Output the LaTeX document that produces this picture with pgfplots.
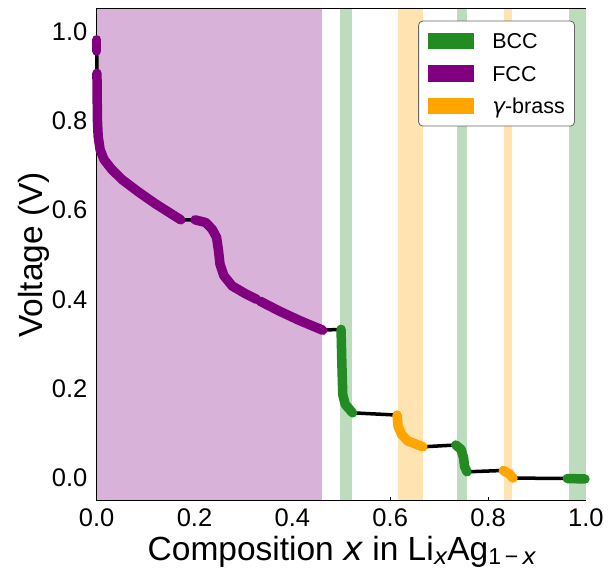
\documentclass[border=0pt]{standalone}
\usepackage{fontspec}
\setmainfont{Liberation Sans}
\newfontfamily\dv{DejaVu Sans}
\usepackage{pgfplots}
\pgfplotsset{compat=1.18}
\definecolor{bcc}{HTML}{228B22}
\definecolor{fcc}{HTML}{800080}
\definecolor{gam}{HTML}{FFA500}
\definecolor{bccs}{HTML}{BDDCBD}
\definecolor{fccs}{HTML}{D9B2D9}
\definecolor{gams}{HTML}{FFE4B2}
\newcommand{\sub}[1]{\raisebox{-4pt}{\fontsize{23}{23}\selectfont #1}}
\begin{document}
\begin{tikzpicture}
\useasboundingbox (-96.7pt,-70.6pt) rectangle (516.3pt,500.4pt);
\begin{axis}[
  scale only axis, width=489.2pt, height=491.4pt,
  xmin=0, xmax=1, ymin=-0.05, ymax=1.05,
  clip=false,
  axis line style={line width=1pt},
  tick align=inside, tick pos=left, major tick length=3.5pt,
  tick style={line width=1pt, black},
  xtick={0,0.2,0.4,0.6,0.8,1.0}, ytick={0,0.2,0.4,0.6,0.8,1.0},
  xticklabel style={font=\fontsize{25.5}{25.5}\selectfont, inner sep=0pt, yshift=-7.6pt,
    /pgf/number format/.cd, fixed, fixed zerofill, precision=1, assume math mode=true},
  yticklabel style={font=\fontsize{25.5}{25.5}\selectfont, inner sep=0pt, xshift=-9.2pt,
    /pgf/number format/.cd, fixed, fixed zerofill, precision=1, assume math mode=true},
  xlabel={Composition {\dv\itshape x} in Li\sub{\dv\itshape x}Ag\sub{1\,−\,{\dv\itshape x}}},
  ylabel={Voltage (V)},
  xlabel style={font=\fontsize{33.5}{33.5}\selectfont, inner sep=0pt, at={(axis description cs:0.501,-0.1225)}, anchor=base},
  ylabel style={font=\fontsize{33.5}{33.5}\selectfont, inner sep=0pt, at={(axis description cs:-0.1098,0.5)}, anchor=base},
  legend style={at={(rel axis cs:1,1)}, anchor=north east, xshift=-11pt, yshift=-11.7pt,
    draw=black!60, line width=0.8pt, rounded corners=4pt, fill=white,
    font=\fontsize{21.5}{21.5}\selectfont, inner xsep=9.7pt, inner ysep=11.6pt,
    row sep=15.8pt,
    /tikz/every odd column/.append style={column sep=18pt},
    nodes={inner sep=0pt, text height=15.4pt, text depth=0pt}},
  legend cell align=left,
  legend image code/.code={\fill[#1, draw=none, sharp corners] (0pt,-8.35pt) rectangle (46pt,8.35pt);},
]
% background phase spans
\addplot[draw=none, fill=fccs, forget plot] coordinates {(0,-0.05) (0.461,-0.05) (0.461,1.05) (0,1.05)} -- cycle;
\addplot[draw=none, fill=bccs, forget plot] coordinates {(0.498,-0.05) (0.522,-0.05) (0.522,1.05) (0.498,1.05)} -- cycle;
\addplot[draw=none, fill=gams, forget plot] coordinates {(0.615,-0.05) (0.668,-0.05) (0.668,1.05) (0.615,1.05)} -- cycle;
\addplot[draw=none, fill=bccs, forget plot] coordinates {(0.736,-0.05) (0.756,-0.05) (0.756,1.05) (0.736,1.05)} -- cycle;
\addplot[draw=none, fill=gams, forget plot] coordinates {(0.832,-0.05) (0.849,-0.05) (0.849,1.05) (0.832,1.05)} -- cycle;
\addplot[draw=none, fill=bccs, forget plot] coordinates {(0.965,-0.05) (1.0,-0.05) (1.0,1.05) (0.965,1.05)} -- cycle;
% full voltage curve (black)
\addplot[black, line width=3.5pt, line join=round, forget plot] coordinates {
(0,0.981)(0,0.956)(0.0005,0.906)(0.001,0.85)(0.0015,0.80)(0.003,0.765)(0.007,0.735)(0.015,0.713)(0.03,0.692)(0.052,0.668)(0.086,0.64)(0.12,0.614)(0.172,0.578)
(0.201,0.578)(0.223,0.572)(0.236,0.557)(0.245,0.539)(0.249,0.509)(0.252,0.479)(0.26,0.453)(0.277,0.43)(0.305,0.412)(0.327,0.400)(0.334,0.396)(0.373,0.374)(0.414,0.353)(0.462,0.331)
(0.4995,0.333)(0.501,0.262)(0.503,0.187)(0.508,0.165)(0.523,0.146)
(0.614,0.141)(0.616,0.116)(0.623,0.098)(0.636,0.083)(0.667,0.070)
(0.734,0.074)(0.745,0.064)(0.750,0.045)(0.752,0.026)(0.757,0.014)
(0.831,0.017)(0.844,0.009)(0.851,0.000)
(0.962,-0.001)(0.998,-0.002)};
% FCC segments
\addplot[fcc, line width=9.5pt, line cap=round, line join=round, forget plot] coordinates {(0,0.981)(0,0.956)};
\addplot[fcc, line width=9.5pt, line cap=round, line join=round, forget plot] coordinates {
(0.0005,0.906)(0.001,0.85)(0.0015,0.80)(0.003,0.765)(0.007,0.735)(0.015,0.713)(0.03,0.692)(0.052,0.668)(0.086,0.64)(0.12,0.614)(0.172,0.578)};
\addplot[fcc, line width=9.5pt, line cap=round, line join=round, forget plot] coordinates {
(0.201,0.578)(0.223,0.572)(0.236,0.557)(0.245,0.539)(0.249,0.509)(0.252,0.479)(0.26,0.453)(0.277,0.43)(0.305,0.412)(0.327,0.400)};
\addplot[fcc, line width=9.5pt, line cap=round, line join=round, forget plot] coordinates {
(0.334,0.396)(0.373,0.374)(0.414,0.353)(0.462,0.331)};
% BCC segments
\addplot[bcc, line width=9.5pt, line cap=round, line join=round, forget plot] coordinates {
(0.4995,0.333)(0.501,0.262)(0.503,0.187)(0.508,0.165)(0.523,0.146)};
\addplot[bcc, line width=9.5pt, line cap=round, line join=round, forget plot] coordinates {
(0.734,0.074)(0.745,0.064)(0.750,0.045)(0.752,0.026)(0.757,0.014)};
\addplot[bcc, line width=9.5pt, line cap=round, line join=round, forget plot] coordinates {
(0.962,-0.001)(0.998,-0.002)};
% gamma-brass segments
\addplot[gam, line width=9.5pt, line cap=round, line join=round, forget plot] coordinates {
(0.614,0.141)(0.616,0.116)(0.623,0.098)(0.636,0.083)(0.667,0.070)};
\addplot[gam, line width=9.5pt, line cap=round, line join=round, forget plot] coordinates {
(0.831,0.017)(0.844,0.009)(0.851,0.000)};
% legend
\addlegendimage{fill=bcc}
\addlegendentry{BCC}
\addlegendimage{fill=fcc}
\addlegendentry{FCC}
\addlegendimage{fill=gam}
\addlegendentry{{\dv\itshape γ}-brass}
\end{axis}
\end{tikzpicture}
\end{document}
